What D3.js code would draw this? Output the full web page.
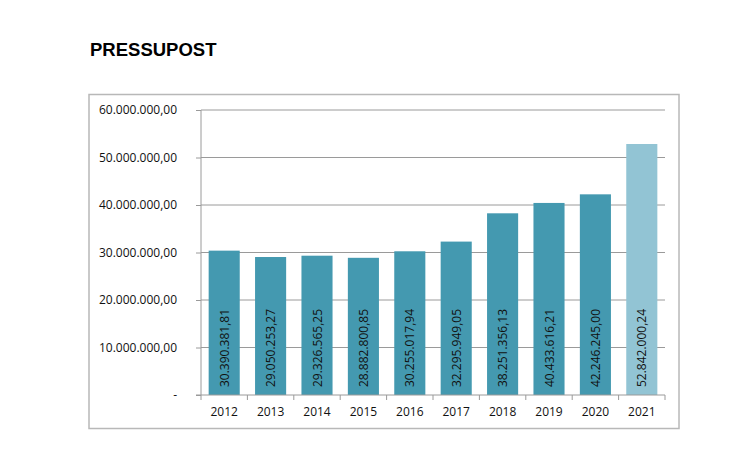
<!DOCTYPE html>
<html><head><meta charset="utf-8">
<script src="https://cdn.jsdelivr.net/npm/d3@7"></script>
<style>body{margin:0;background:#fff;} svg{display:block;}</style>
</head><body>
<svg id="c" width="748" height="455"></svg>
<script>
const years = ["2012","2013","2014","2015","2016","2017","2018","2019","2020","2021"];
const values = [30390381.81,29050253.27,29326565.25,28882800.85,30255017.94,32295949.05,38251356.13,40433616.21,42246245.00,52842000.24];
const valueLabels = ["30.390.381,81","29.050.253,27","29.326.565,25","28.882.800,85","30.255.017,94","32.295.949,05","38.251.356,13","40.433.616,21","42.246.245,00","52.842.000,24"];
const yTicks = [0,10000000,20000000,30000000,40000000,50000000,60000000];
const yTickLabels = ["-","10.000.000,00","20.000.000,00","30.000.000,00","40.000.000,00","50.000.000,00","60.000.000,00"];
const title = "PRESSUPOST";

const svg = d3.select("#c");
const font = "'Open Sans', 'DejaVu Sans', sans-serif";
svg.append("text").attr("x",90).attr("y",56).text(title)
  .attr("font-family","Arial, 'Liberation Sans', sans-serif").attr("font-weight","bold").attr("font-size",18.5).attr("fill","#000");

svg.append("rect").attr("x",89).attr("y",94.5).attr("width",590).attr("height",334)
  .attr("fill","none").attr("stroke","#b8b8b8").attr("stroke-width",1.5);

const L=201,R=665,T=110,B=395;
const x = d3.scaleBand().domain(years).range([L,R]).paddingInner(0.33).paddingOuter(0.165);
const y = d3.scaleLinear().domain([0,60000000]).range([B,T]);

const g = svg.append("g");
g.selectAll("line.grid").data(yTicks.slice(1)).join("line")
  .attr("x1",L).attr("x2",R).attr("y1",d=>y(d)).attr("y2",d=>y(d))
  .attr("stroke","#9a9a9a").attr("stroke-width",1);

g.selectAll("rect.bar").data(values).join("rect")
  .attr("x",(d,i)=>x(years[i])).attr("width",x.bandwidth())
  .attr("y",d=>y(d)).attr("height",d=>B-y(d))
  .attr("fill",(d,i)=> i===values.length-1 ? "#92c4d4" : "#4499b0");

g.selectAll("text.val").data(values).join("text")
  .attr("transform",(d,i)=>`translate(${x(years[i])+x.bandwidth()/2+4.5},${B-8}) rotate(-90)`)
  .attr("font-family",font).attr("font-size",12).attr("fill","#111")
  .text((d,i)=>valueLabels[i]);

const ya = d3.axisLeft(y).tickValues(yTicks).tickFormat((d,i)=>yTickLabels[i]).tickSize(5).tickPadding(19);
const yg = svg.append("g").attr("transform",`translate(${L},0)`).call(ya);
yg.select(".domain").attr("stroke","#9a9a9a").attr("d",`M0,${T}V${B}`);
yg.selectAll(".tick line").attr("stroke","#9a9a9a");
yg.selectAll(".tick text").attr("font-family",font).attr("font-size",12).attr("fill","#111");

const xa = d3.axisBottom(x).tickSize(0).tickPadding(12);
const xg = svg.append("g").attr("transform",`translate(0,${B})`).call(xa);
xg.select(".domain").attr("stroke","#9a9a9a").attr("d",`M${L-5},0H${R}`);
xg.selectAll(".tick text").attr("font-family",font).attr("font-size",12).attr("fill","#111");
const step = x.step();
const bounds = d3.range(years.length+1).map(i=>L+i*step);
xg.selectAll("line.bt").data(bounds).join("line")
  .attr("x1",d=>d).attr("x2",d=>d).attr("y1",0).attr("y2",5).attr("stroke","#9a9a9a");
</script>
</body></html>
